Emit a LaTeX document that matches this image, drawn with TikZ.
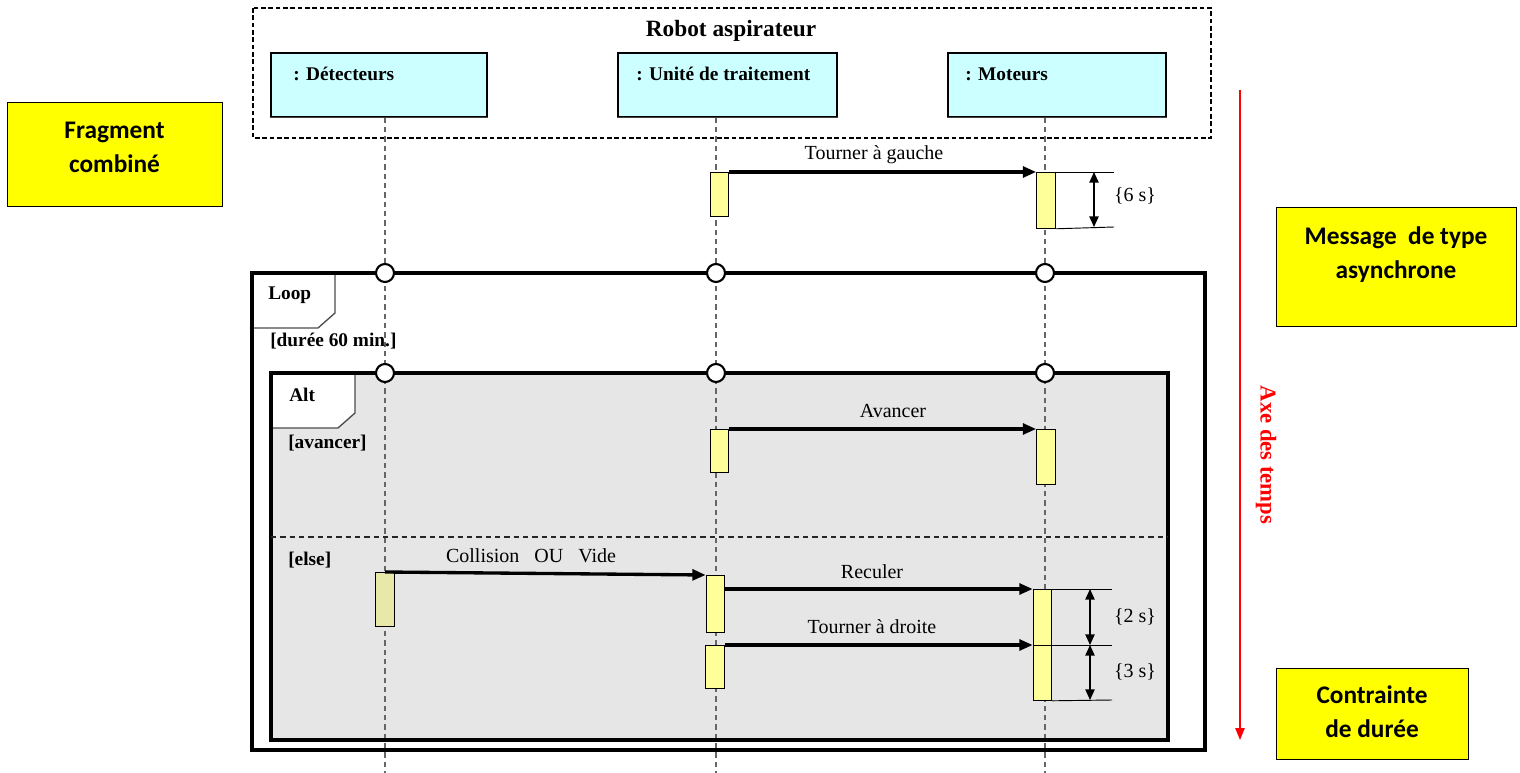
\documentclass[tikz,border=0pt]{standalone}
\usepackage{fontspec}
\setmainfont{Liberation Serif}
\newfontfamily\calib{Carlito}
\usetikzlibrary{arrows.meta}
\definecolor{lifecyan}{HTML}{CCFFFF}
\definecolor{actyellow}{HTML}{FFFF99}
\definecolor{actmuted}{HTML}{E8E8A8}
\definecolor{altgray}{HTML}{E6E6E6}
\definecolor{noteyellow}{HTML}{FFFF00}
\definecolor{axisred}{HTML}{FF0000}
\tikzset{
  lifebox/.style={draw=black, line width=0.8pt, fill=lifecyan, minimum width=#1, minimum height=48pt, inner sep=0pt},
  boxname/.style={anchor=west, inner sep=0pt, font=\fontsize{14.5}{16}\selectfont\bfseries},
  lifeline/.style={draw=gray!80!black, line width=0.8pt, dash pattern=on 4pt off 3pt},
  actbox/.style={draw=black, line width=0.6pt, fill=actyellow, minimum width=14pt, minimum height=#1, inner sep=0pt, anchor=north},
  msg/.style={line width=2.5pt, -{Triangle[length=10pt,width=8pt]}},
  msglabel/.style={inner sep=0pt, font=\fontsize{15}{17}\selectfont},
  durline/.style={line width=0.7pt},
  durarrow/.style={line width=1.1pt, {Triangle[length=8pt,width=7pt]}-{Triangle[length=8pt,width=7pt]}},
  gate/.style={circle, draw=black, line width=1.6pt, fill=white, minimum size=13.5pt, inner sep=0pt},
  framebd/.style={draw=black, line width=2.3pt},
  tagbd/.style={draw=gray!60!black, line width=1pt, fill=white},
  guard/.style={anchor=west, inner sep=0pt, font=\fontsize{14.5}{16}\selectfont\bfseries},
  note/.style={draw=black, line width=0.6pt, fill=noteyellow, minimum width=#1, inner sep=0pt},
  notetext/.style={align=center, inner sep=0pt, font=\calib\fontsize{19}{25.5}\selectfont\bfseries}
}
\begin{document}
\begin{tikzpicture}[x=0.75pt,y=-0.75pt]
\useasboundingbox (0,0) rectangle (1520,773);

% Robot aspirateur container
\draw[line width=0.8pt, dash pattern=on 3.5pt off 2pt] (253,8) rectangle (1211,138);
\node[inner sep=0pt, font=\fontsize{17.5}{19}\selectfont\bfseries] (title) at (731,31) {Robot aspirateur};

% lifeline heads
\node[lifebox=162pt] (dBox) at (379,85) {};
\node[lifebox=164.25pt] (uBox) at (727.5,85) {};
\node[lifebox=163.5pt] (mBox) at (1057,85) {};
\draw[gray!50!black, line width=1.2pt] (dBox.south west) -- (dBox.south east);
\draw[gray!50!black, line width=1.2pt] (uBox.south west) -- (uBox.south east);
\draw[gray!50!black, line width=1.2pt] (mBox.south west) -- (mBox.south east);
\node[boxname] (dName) at (293,74) {: Détecteurs};
\node[boxname] (uName) at (636,74) {: Unité de traitement};
\node[boxname] (mName) at (965,74) {: Moteurs};

% frames fill
\fill[altgray] (271,373) rectangle (1168,740);

% lifelines
\coordinate (dEnd) at (385,773);
\coordinate (uEnd) at (716,773);
\coordinate (mEnd) at (1045,773);
\draw[lifeline] (dBox.south -| dEnd) -- (dEnd);
\draw[lifeline] (uBox.south -| uEnd) -- (uEnd);
\draw[lifeline] (mBox.south -| mEnd) -- (mEnd);

% Loop frame
\draw[framebd] (252,273) rectangle (1205,750);
\draw[tagbd] (252,273) -- (335,273) -- (335,313) -- (318,328) -- (252,328) -- cycle;
\draw[framebd] (252,273) -- (1205,273);
\draw[framebd] (252,273) -- (252,750);
\node[guard] (loopTxt) at (268,295) {Loop};
\node[guard] (loopGuard) at (270,341) {[durée 60 min.]};

% Alt frame
\draw[framebd] (271,373) rectangle (1168,740);
\draw[tagbd] (271,373) -- (355,373) -- (355,413) -- (338,428) -- (271,428) -- cycle;
\draw[framebd] (271,373) -- (1168,373);
\draw[framebd] (271,373) -- (271,740);
\node[guard] (altTxt) at (289,395) {Alt};
\node[guard] (altG1) at (288,443) {[avancer]};
\draw[line width=0.8pt, dash pattern=on 4pt off 3pt, gray!30!black] (271,537) -- (1168,537);
\node[guard] (altG2) at (288,560) {[else]};

% gates
\node[gate] (g1) at (385,273) {};
\node[gate] (g2) at (716,273) {};
\node[gate] (g3) at (1045,273) {};
\node[gate] (g4) at (385,373) {};
\node[gate] (g5) at (716,373) {};
\node[gate] (g6) at (1045,373) {};

% activations
\node[actbox=33pt] (uA1) at (719.5,172) {};
\node[actbox=42pt] (mA1) at (1046,172) {};
\node[actbox=32.25pt] (uA2) at (719.5,429) {};
\node[actbox=41.25pt] (mA2) at (1046,429) {};
\node[actbox=40.5pt, fill=actmuted] (dA) at (385,572) {};
\node[actbox=42.75pt] (uA3) at (715.5,575) {};
\node[actbox=42pt] (mA3) at (1042.5,589) {};
\node[actbox=41.25pt] (mA4) at (1042.5,645) {};
\node[actbox=32.25pt] (uA4) at (715,645) {};

% messages
\draw[msg] (uA1.north east) -- (mA1.north west);
\node[msglabel] (l1) at (874,155) {Tourner à gauche};
\draw[msg] (uA2.north east) -- (mA2.north west);
\node[msglabel] (l2) at (893,411) {Avancer};
\draw[msg] (dA.north) -- (uA3.north west);
\node[msglabel] (l3) at (531,556) {Collision\ \ \ OU\ \ \ Vide};
\draw[msg] (uA3.east |- mA3.north) -- (mA3.north west);
\node[msglabel] (l4) at (872,572) {Reculer};
\draw[msg] (uA4.north east) -- (mA4.north west);
\node[msglabel] (l5) at (872,627) {Tourner à droite};

% duration constraints
\coordinate (c1a) at (1114,172);
\coordinate (c1b) at (1114,227);
\draw[durline] (mA1.north east) -- (c1a);
\draw[durline] (mA1.south east) -- (c1b);
\coordinate (c1x) at (1094,0);
\draw[durarrow] (c1a -| c1x) -- (c1b -| c1x);
\node[msglabel] (d1) at (1135,196) {\{6 s\}};

\coordinate (c2a) at (1112,589);
\coordinate (c2b) at (1112,645);
\coordinate (c2c) at (1112,700);
\draw[durline] (mA3.north east) -- (c2a);
\draw[durline] (mA4.north east) -- (c2b);
\draw[durline] (mA4.south east) -- (c2c);
\coordinate (c2x) at (1090,0);
\draw[durarrow] (c2a -| c2x) -- (c2b -| c2x);
\draw[durarrow] (c2b -| c2x) -- (c2c -| c2x);
\node[msglabel] (d2) at (1135,617) {\{2 s\}};
\node[msglabel] (d3) at (1135,672) {\{3 s\}};

% time axis
\coordinate (axTop) at (1240,90);
\coordinate (axBot) at (1240,740);
\draw[axisred, line width=1.2pt, -{Triangle[length=9pt,width=7pt]}] (axTop) -- (axBot);
\node[rotate=-90, inner sep=0pt, text=axisred, font=\fontsize{17}{19}\selectfont\bfseries] (axLbl) at (1266,455) {Axe des temps};

% notes
\node[note=161.25pt, minimum height=78pt] (n1) at (114.5,154) {};
\node[notetext] (n1t) at (114.5,147.5) {Fragment\\combiné};
\node[note=180pt, minimum height=89.25pt] (n2) at (1396,266.5) {};
\node[notetext] (n2t) at (1396,255) {Message\ \ de type\\asynchrone};
\node[note=144pt, minimum height=68.25pt] (n3) at (1372,713.5) {};
\node[notetext] (n3t) at (1372,712) {Contrainte\\de durée};
\end{tikzpicture}
\end{document}
